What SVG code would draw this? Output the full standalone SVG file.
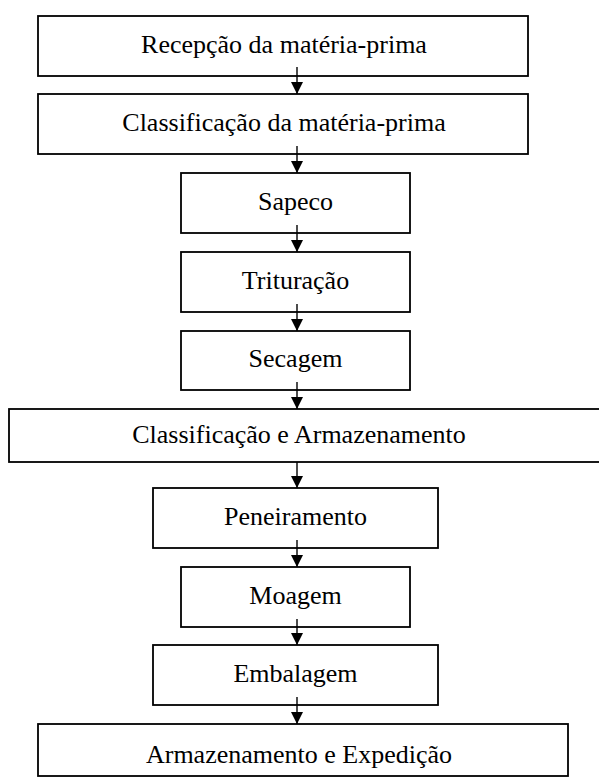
<svg xmlns="http://www.w3.org/2000/svg" width="599" height="778" viewBox="0 0 599 778">
<style>
.box{fill:#fff;stroke:#000;stroke-width:1.8}
.lbl{font-family:"Liberation Serif","Times New Roman",serif;font-size:26px;fill:#000;text-anchor:middle}
.con{stroke:#000;stroke-width:1.4;fill:none;marker-end:url(#ah)}
</style>
<defs>
<marker id="ah" markerUnits="userSpaceOnUse" markerWidth="12" markerHeight="12" viewBox="0 0 12 12" refX="12" refY="6" orient="auto">
<path d="M0,0 L12,6 L0,12 Z" fill="#000"/>
</marker>
</defs>
<rect width="599" height="778" fill="#fff"/>
<g id="n1"><rect class="box" x="38" y="16" width="490" height="60"/><text class="lbl" x="284" y="53">Recepção da matéria-prima</text></g>
<g id="n2"><rect class="box" x="38" y="94" width="490" height="60"/><text class="lbl" x="284" y="131">Classificação da matéria-prima</text></g>
<g id="n3"><rect class="box" x="181" y="173" width="229" height="60"/><text class="lbl" x="295.5" y="210">Sapeco</text></g>
<g id="n4"><rect class="box" x="181" y="252" width="229" height="60"/><text class="lbl" x="295.5" y="289">Trituração</text></g>
<g id="n5"><rect class="box" x="181" y="331" width="229" height="59"/><text class="lbl" x="295.5" y="367">Secagem</text></g>
<g id="n6"><rect class="box" x="9" y="409" width="600" height="53"/><text class="lbl" x="299" y="443">Classificação e Armazenamento</text></g>
<g id="n7"><rect class="box" x="153" y="488" width="285" height="60"/><text class="lbl" x="295.5" y="525">Peneiramento</text></g>
<g id="n8"><rect class="box" x="181" y="567" width="229" height="60"/><text class="lbl" x="295.5" y="604">Moagem</text></g>
<g id="n9"><rect class="box" x="153" y="645" width="285" height="60"/><text class="lbl" x="295.5" y="682">Embalagem</text></g>
<g id="n10"><rect class="box" x="38" y="724" width="530" height="52"/><text class="lbl" x="299" y="763">Armazenamento e Expedição</text></g>
<g id="connectors">
<line class="con" x1="297" y1="67" x2="297" y2="94"/>
<line class="con" x1="297" y1="146" x2="297" y2="173"/>
<line class="con" x1="297" y1="225" x2="297" y2="252"/>
<line class="con" x1="297" y1="304" x2="297" y2="331"/>
<line class="con" x1="297" y1="382" x2="297" y2="409"/>
<line class="con" x1="297" y1="462" x2="297" y2="488"/>
<line class="con" x1="297" y1="540" x2="297" y2="567"/>
<line class="con" x1="297" y1="619" x2="297" y2="645"/>
<line class="con" x1="297" y1="697" x2="297" y2="724"/>
</g>
</svg>
